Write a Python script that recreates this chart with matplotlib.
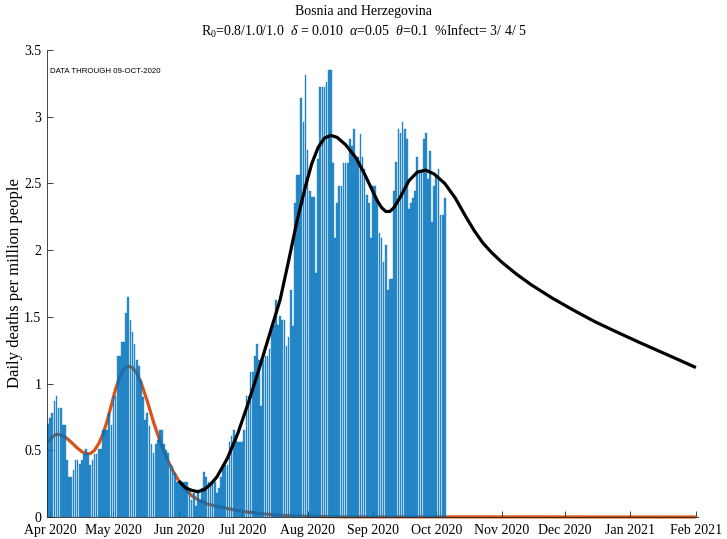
import matplotlib
matplotlib.use("Agg")
import matplotlib.pyplot as plt
import matplotlib.dates as mdates
import datetime as dt

# ---------------- data ----------------
first_day = "2020-03-31"
daily_deaths = [
    0.70, 0.74, 0.78, 0.87, 0.91, 0.82, 0.82, 0.69, 0.69, 0.43, 0.30, 0.30, 0.35, 0.43, 0.43, 0.40,
    0.43, 0.47, 0.51, 0.47, 0.39, 0.43, 0.47, 0.47, 0.51, 0.51, 0.65, 0.65, 0.65, 0.78, 0.69, 0.91,
    0.91, 1.21, 1.21, 1.31, 1.31, 1.53,
    1.65, 1.48, 1.39, 1.30, 1.18, 1.13, 1.03, 0.90, 0.73, 0.78, 0.68, 0.55, 0.48, 0.55, 0.58, 0.65,
    0.65, 0.55, 0.50, 0.48, 0.40, 0.38, 0.33, 0.26, 0.26, 0.26, 0.26, 0.26, 0.26, 0.20, 0.13, 0.18,
    0.08, 0.18, 0.13, 0.22, 0.34,
    0.30, 0.26, 0.26, 0.26, 0.26, 0.18, 0.22, 0.30, 0.39, 0.39, 0.39, 0.56, 0.61, 0.65, 0.60, 0.56,
    0.56, 0.56, 0.65, 0.91, 0.91, 1.09, 1.09, 1.21, 1.30, 1.18, 0.83, 1.18, 1.21, 1.21, 1.26, 1.40,
    1.44, 1.63, 1.44, 1.51, 1.48, 1.48, 1.28,
    1.35, 1.70, 1.43, 2.35, 2.56, 2.56, 3.14, 2.96, 3.31, 2.75, 2.44, 2.40, 2.40, 1.83, 2.68, 3.22,
    3.22, 3.22, 3.26, 3.35, 3.35, 2.65, 2.09, 2.35, 2.48, 2.48, 2.65, 2.65, 2.65, 2.83, 2.78, 2.91,
    2.70, 2.70, 2.87, 2.70, 2.61,
    2.41, 2.35, 2.09, 2.48, 2.48, 2.39, 2.13, 2.09, 1.91, 2.04, 1.70, 1.78, 1.78, 2.44, 2.66, 2.91,
    2.88, 2.96, 2.91, 2.83, 2.31, 2.35, 2.39, 2.44, 2.70, 2.59, 2.59, 2.83, 2.88, 2.53, 2.74, 2.21,
    2.48, 2.56, 2.61, 2.26, 2.26, 2.39,
]

wave1_dates = ["2020-03-31", "2020-04-02", "2020-04-04", "2020-04-06", "2020-04-08", "2020-04-10",
               "2020-04-12", "2020-04-14", "2020-04-16", "2020-04-18", "2020-04-20", "2020-04-22",
               "2020-04-24", "2020-04-26", "2020-04-28", "2020-04-30", "2020-05-02", "2020-05-04",
               "2020-05-06", "2020-05-08", "2020-05-10", "2020-05-12", "2020-05-14", "2020-05-17",
               "2020-05-20", "2020-05-23", "2020-05-26", "2020-05-29", "2020-06-01", "2020-06-04",
               "2020-06-07", "2020-06-10", "2020-06-14", "2020-06-19", "2020-06-25", "2020-07-02",
               "2020-07-10", "2020-07-20", "2020-08-01", "2020-08-20", "2021-02-01"]
wave1_vals = [0.56, 0.60, 0.62, 0.615, 0.60, 0.575,
              0.545, 0.515, 0.49, 0.475, 0.475, 0.50,
              0.55, 0.62, 0.72, 0.84, 0.96, 1.05,
              1.11, 1.13, 1.12, 1.08, 1.01, 0.87,
              0.71, 0.57, 0.45, 0.35, 0.27, 0.21,
              0.16, 0.13, 0.10, 0.08, 0.06, 0.04,
              0.025, 0.012, 0.005, 0.001, 0.0]

model_dates = ["2020-06-01", "2020-06-04", "2020-06-07", "2020-06-10", "2020-06-13", "2020-06-16",
               "2020-06-19", "2020-06-24", "2020-06-29", "2020-07-04", "2020-07-09", "2020-07-14",
               "2020-07-19", "2020-07-23", "2020-07-27", "2020-07-31", "2020-08-03", "2020-08-06",
               "2020-08-09", "2020-08-12", "2020-08-15", "2020-08-19", "2020-08-24", "2020-08-28",
               "2020-08-31", "2020-09-03", "2020-09-05", "2020-09-07", "2020-09-09", "2020-09-11",
               "2020-09-14", "2020-09-18", "2020-09-22", "2020-09-26", "2020-09-30", "2020-10-05",
               "2020-10-10", "2020-10-15", "2020-10-19", "2020-10-23", "2020-10-27", "2020-11-01",
               "2020-11-08", "2020-11-15", "2020-11-25", "2020-12-05", "2020-12-15", "2020-12-25",
               "2021-01-05", "2021-01-15", "2021-01-25", "2021-02-01"]
model_vals = [0.27, 0.22, 0.20, 0.19, 0.205, 0.245,
              0.30, 0.44, 0.63, 0.86, 1.11, 1.37,
              1.63, 1.92, 2.22, 2.48, 2.65, 2.77,
              2.84, 2.86, 2.845, 2.79, 2.69, 2.57,
              2.47, 2.37, 2.32, 2.29, 2.29, 2.32,
              2.40, 2.52, 2.585, 2.60, 2.57, 2.50,
              2.39, 2.25, 2.145, 2.055, 1.985, 1.91,
              1.82, 1.74, 1.64, 1.55, 1.465, 1.39,
              1.31, 1.24, 1.17, 1.12]

month_ticks = ["2020-04-01", "2020-05-01", "2020-06-01", "2020-07-01", "2020-08-01", "2020-09-01",
               "2020-10-01", "2020-11-01", "2020-12-01", "2021-01-01", "2021-02-01"]
y_ticks = [0, 0.5, 1, 1.5, 2, 2.5, 3, 3.5]
y_ticklabels = ["0", "0.5", "1", "1.5", "2", "2.5", "3", "3.5"]

title1 = "Bosnia and Herzegovina"
title2 = r"R$_0$=0.8/1.0/1.0  $\delta$ = 0.010  $\alpha$=0.05  $\theta$=0.1  %Infect= 3/ 4/ 5"
ylabel = "Daily deaths per million people"
note = "DATA THROUGH 09-OCT-2020"

# ---------------- helpers ----------------
def d(s):
    return dt.datetime.strptime(s, "%Y-%m-%d")

start = d(first_day)
bar_dates = [start + dt.timedelta(days=i) for i in range(len(daily_deaths))]

plt.rcParams["font.family"] = ["Liberation Serif", "DejaVu Serif"]
plt.rcParams["mathtext.fontset"] = "custom"
plt.rcParams["mathtext.rm"] = "Liberation Serif"
plt.rcParams["mathtext.it"] = "Liberation Serif:italic"

W, H = 727, 539
fig = plt.figure(figsize=(W / 100, H / 100), dpi=100)
ax = fig.add_axes([47 / W, (H - 517) / H, 651 / W, 467 / H])

ax.plot([d(s) for s in wave1_dates], wave1_vals, color="#D95319", lw=2.3, zorder=1,
        clip_on=False, solid_capstyle="butt", solid_joinstyle="round")
ax.bar(bar_dates, daily_deaths, width=0.8, color="#0072BD", alpha=0.8,
       edgecolor="#0072BD", linewidth=0.3, zorder=2)
ax.plot([d(s) for s in model_dates], model_vals, color="black", lw=2.3, zorder=3,
        solid_capstyle="butt", solid_joinstyle="round")

ax.set_xlim(d("2020-03-30") + dt.timedelta(hours=12), d("2021-02-02"))
ax.set_ylim(0, 3.5)
ax.set_xticks([d(s) for s in month_ticks])
ax.xaxis.set_major_formatter(mdates.DateFormatter("%b %Y"))
ax.set_yticks(y_ticks)
ax.set_yticklabels(y_ticklabels)

for side in ("top", "right"):
    ax.spines[side].set_visible(False)
for side in ("left", "bottom"):
    ax.spines[side].set_linewidth(0.6)
    ax.spines[side].set_color("#262626")
ax.tick_params(direction="in", length=4, width=0.6, labelsize=10, colors="#262626",
               labelcolor="black")
ax.tick_params(axis="x", pad=5)
ax.tick_params(axis="y", pad=4)

ax.set_ylabel(ylabel, fontsize=12, labelpad=1)
ax.text(0.005, 0.953, note, transform=ax.transAxes, fontsize=5.7,
        family=["Liberation Sans", "DejaVu Sans"], va="center", ha="left")

fig.text(0.5, 1 - 12 / H, title1, ha="center", va="center", fontsize=10)
fig.text(0.5, 1 - 31 / H, title2, ha="center", va="center", fontsize=10)

fig.savefig("out.png", dpi=100)
